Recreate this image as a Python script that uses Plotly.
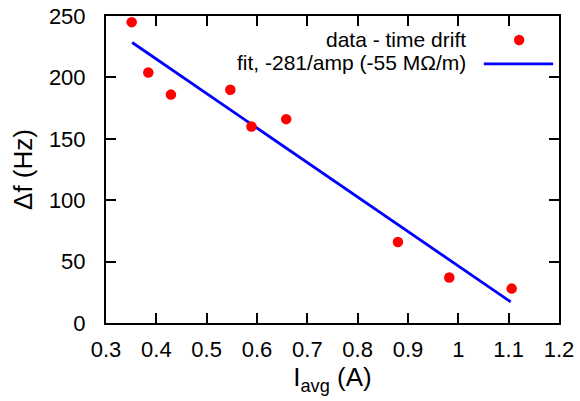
import plotly.graph_objects as go

# measured points (current in A, frequency shift in Hz)
i_avg = [0.351, 0.384, 0.429, 0.547, 0.589, 0.658, 0.880, 0.982, 1.106]
delta_f = [245, 204, 186, 190, 160, 166, 66, 37, 28]

# linear fit, -281 Hz/A, drawn over the data range
fit_x = [0.352, 1.104]
fit_y = [228.4, 17.2]

x_ticks = [0.3, 0.4, 0.5, 0.6, 0.7, 0.8, 0.9, 1.0, 1.1, 1.2]
x_tick_text = ["0.3", "0.4", "0.5", "0.6", "0.7", "0.8", "0.9", "1", "1.1", "1.2"]
y_ticks = [0, 50, 100, 150, 200, 250]

FONT = "Liberation Sans, Arial, sans-serif"
FS = 22

fig = go.Figure()
fig.add_trace(go.Scatter(
    x=fit_x, y=fit_y, mode="lines",
    line=dict(color="#0000ff", width=2.8),
    name="fit, -281/amp (-55 MΩ/m)",
))
fig.add_trace(go.Scatter(
    x=i_avg, y=delta_f, mode="markers",
    marker=dict(color="#ff0000", size=10.5),
    name="data - time drift",
))

axis_style = dict(
    showline=True, linecolor="black", linewidth=2, mirror="ticks",
    ticks="inside", ticklen=10, tickwidth=2, tickcolor="black",
    showgrid=False, zeroline=False, automargin=False,
    tickfont=dict(family=FONT, size=FS, color="black"),
)

fig.update_layout(
    template="none",
    width=580, height=401,
    margin=dict(l=106, r=21, t=16, b=78, pad=0),
    paper_bgcolor="white", plot_bgcolor="white",
    showlegend=False,
    font=dict(family=FONT, size=FS, color="black"),
    xaxis=dict(range=[0.3, 1.2], tickvals=x_ticks, ticktext=x_tick_text,
               ticklabelstandoff=6,
               title=dict(text="I<sub>avg</sub> (A)", standoff=2), **axis_style),
    yaxis=dict(range=[0, 250], tickvals=y_ticks,
               title=dict(text="Δf (Hz)", standoff=9), ticklabelstandoff=14,
               **axis_style),
)

# gnuplot-style key: text right-aligned, sample on the right
key_font = dict(family=FONT, size=21, color="black")
fig.add_annotation(xref="paper", yref="paper", x=0.799, y=0.922, xanchor="right",
                   yanchor="middle", height=23, text="data - time drift",
                   showarrow=False, font=key_font)
fig.add_annotation(xref="paper", yref="paper", x=0.799, y=0.847, xanchor="right",
                   yanchor="middle", height=23, text="fit, -281/amp (-55 MΩ/m)",
                   showarrow=False, font=key_font)
fig.add_shape(type="circle", xref="paper", yref="paper",
              x0=0.9005, x1=0.9235, y0=0.905, y1=0.939,
              fillcolor="#ff0000", line=dict(width=0))
fig.add_shape(type="line", xref="paper", yref="paper",
              x0=0.834, x1=0.987, y0=0.844, y1=0.844,
              line=dict(color="#0000ff", width=2.8))

# drop the default page margin so the 580x401 figure fills the window
fig.write_html("out.html",
               config={"displayModeBar": False},
               post_script="document.body.style.margin='0';"
                           "document.body.style.overflow='hidden';")
